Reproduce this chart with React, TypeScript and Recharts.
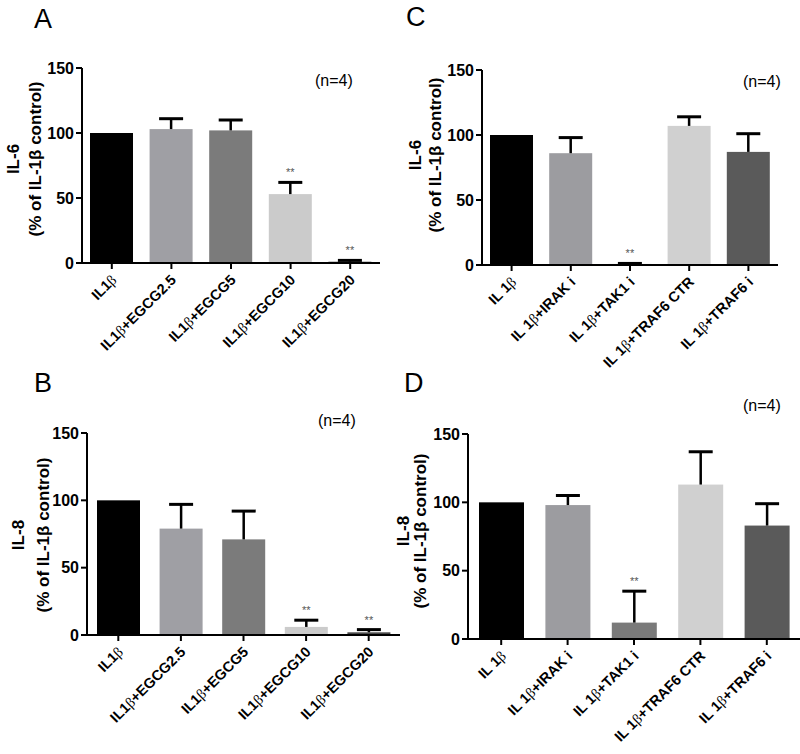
import { BarChart, Bar, XAxis, YAxis, Cell } from 'recharts';

// --- data ---
const egcgCats = ['IL1β', 'IL1β+EGCG2.5', 'IL1β+EGCG5', 'IL1β+EGCG10', 'IL1β+EGCG20'];
const inhibCats = ['IL 1β', 'IL 1β+IRAK i', 'IL 1β+TAK1 i', 'IL 1β+TRAF6 CTR', 'IL 1β+TRAF6 i'];

const il6EgcgMean = [100, 103, 102, 53, 1];
const il6EgcgErr = [0, 8, 8, 9, 1];
const il6EgcgSig = ['', '', '', '**', '**'];

const il8EgcgMean = [100, 79, 71, 6, 2];
const il8EgcgErr = [0, 18, 21, 5, 2];
const il8EgcgSig = ['', '', '', '**', '**'];

const il6InhibMean = [100, 86, 0.8, 107, 87];
const il6InhibErr = [0, 12, 0.4, 7, 14];
const il6InhibSig = ['', '', '**', '', ''];

const il8InhibMean = [100, 98, 12, 113, 83];
const il8InhibErr = [0, 7, 23, 24, 16];
const il8InhibSig = ['', '', '**', '', ''];

const yTicks = [0, 50, 100, 150];

const EGCG_COLORS = ['#000000', '#9f9fa4', '#7b7b7b', '#cbcbcb', '#4a4a4a'];
const INHIB_COLORS = ['#000000', '#9c9ca0', '#7a7a7a', '#d0d0d0', '#5a5a5a'];

const FONT = "Arial, 'Liberation Sans', sans-serif";

function buildRows(cats: string[], mean: number[], err: number[], sig: string[]) {
  return cats.map((name, i) => ({ name, value: mean[i], err: err[i], sig: sig[i] }));
}

function CatTick({ x, y, payload }: any) {
  const parts = String(payload.value).split('β');
  return (
    <g transform={`translate(${x},${y})`}>
      <text
        x={-3}
        y={11}
        textAnchor="end"
        transform="rotate(-45)"
        fontSize={14.5}
        fontWeight="bold"
        fontFamily={FONT}
        fill="#000"
      >
        {parts[0]}
        <tspan fontWeight="normal" fontFamily="'Liberation Serif', serif">β</tspan>
        {parts[1]}
      </text>
    </g>
  );
}

// bar + one-sided error bar (Prism style), scaled from the bar's own height
function BarWithErr(props: any) {
  const { x, y, width, height, fill, payload } = props;
  const ratio = payload.value ? height / payload.value : 0;
  const top = y - payload.err * ratio;
  const cx = x + width / 2;
  return (
    <g>
      <rect x={x} y={y} width={width} height={Math.max(height, 1.5)} fill={fill} />
      {payload.err > 0 && (
        <g stroke="#000">
          <line x1={cx} x2={cx} y1={y} y2={top} strokeWidth={2.5} />
          <line x1={cx - 12} x2={cx + 12} y1={top} y2={top} strokeWidth={3} />
        </g>
      )}
      {payload.sig && (
        <text x={cx} y={top - 6} textAnchor="middle" fontSize={11} fill="#555" fontFamily={FONT}>
          {payload.sig}
        </text>
      )}
    </g>
  );
}

interface PanelProps {
  rows: any[];
  colors: string[];
  left: number;
  top: number;
  width: number;
  height: number;
  margin: { top: number; right: number; bottom: number; left: number };
  barSize: number;
  xHeight: number;
}

function Panel({ rows, colors, left, top, width, height, margin, barSize, xHeight }: PanelProps) {
  return (
    <div style={{ position: 'absolute', left, top, width, height }}>
      <BarChart width={width} height={height} data={rows} margin={margin}>
        <XAxis
          dataKey="name"
          interval={0}
          height={xHeight}
          axisLine={{ stroke: '#000', strokeWidth: 2 }}
          tickLine={{ stroke: '#000', strokeWidth: 2 }}
          tickSize={6}
          tick={<CatTick />}
        />
        <YAxis
          width={50}
          domain={[0, 150]}
          ticks={yTicks}
          interval={0}
          axisLine={{ stroke: '#000', strokeWidth: 2 }}
          tickLine={{ stroke: '#000', strokeWidth: 2 }}
          tickSize={6}
          tick={{ fill: '#000', fontSize: 16, fontWeight: 'bold', fontFamily: FONT }}
        />
        <Bar dataKey="value" barSize={barSize} shape={<BarWithErr />} isAnimationActive={false}>
          {rows.map((_, i) => (
            <Cell key={i} fill={colors[i]} />
          ))}
        </Bar>
      </BarChart>
    </div>
  );
}

function YLabel({ x1, x2, y, name }: { x1: number; x2: number; y: number; name: string }) {
  return (
    <g fontFamily={FONT} fontWeight="bold" fontSize={17} fill="#000">
      <text x={x1} y={y} textAnchor="middle" dominantBaseline="central" transform={`rotate(-90 ${x1} ${y})`}>
        {name}
      </text>
      <text x={x2} y={y} textAnchor="middle" dominantBaseline="central" transform={`rotate(-90 ${x2} ${y})`}>
        (% of IL-1β control)
      </text>
    </g>
  );
}

export default function App() {
  return (
    <div style={{ position: 'absolute', left: 0, top: 0, width: 800, height: 754, background: '#fff', overflow: 'hidden' }}>
      <Panel
        rows={buildRows(egcgCats, il6EgcgMean, il6EgcgErr, il6EgcgSig)}
        colors={EGCG_COLORS}
        left={0}
        top={0}
        width={400}
        height={380}
        margin={{ top: 68, right: 20, bottom: 10, left: 32 }}
        xHeight={107}
        barSize={43}
      />
      <Panel
        rows={buildRows(inhibCats, il6InhibMean, il6InhibErr, il6InhibSig)}
        colors={INHIB_COLORS}
        left={400}
        top={0}
        width={400}
        height={380}
        margin={{ top: 70, right: 22, bottom: 10, left: 32 }}
        xHeight={105}
        barSize={43}
      />
      <Panel
        rows={buildRows(egcgCats, il8EgcgMean, il8EgcgErr, il8EgcgSig)}
        colors={EGCG_COLORS}
        left={0}
        top={380}
        width={400}
        height={374}
        margin={{ top: 53, right: 0, bottom: 10, left: 37 }}
        xHeight={109}
        barSize={43}
      />
      <Panel
        rows={buildRows(inhibCats, il8InhibMean, il8InhibErr, il8InhibSig)}
        colors={INHIB_COLORS}
        left={400}
        top={380}
        width={400}
        height={374}
        margin={{ top: 54, right: 0, bottom: 10, left: 18 }}
        xHeight={105}
        barSize={45}
      />
      <svg width={800} height={754} style={{ position: 'absolute', left: 0, top: 0, pointerEvents: 'none' }}>
        <g fontFamily={FONT} fontSize={27} fill="#000">
          <text x={34} y={28}>A</text>
          <text x={406} y={26}>C</text>
          <text x={34} y={392}>B</text>
          <text x={404} y={392}>D</text>
        </g>
        <g fontFamily={FONT} fontSize={16} fill="#000">
          <text x={315} y={86}>(n=4)</text>
          <text x={743} y={87}>(n=4)</text>
          <text x={318} y={426}>(n=4)</text>
          <text x={743} y={411}>(n=4)</text>
        </g>
        <YLabel x1={13} x2={35} y={159} name="IL-6" />
        <YLabel x1={415} x2={435} y={155} name="IL-6" />
        <YLabel x1={18} x2={43} y={535} name="IL-8" />
        <YLabel x1={403} x2={420} y={531} name="IL-8" />
      </svg>
    </div>
  );
}
